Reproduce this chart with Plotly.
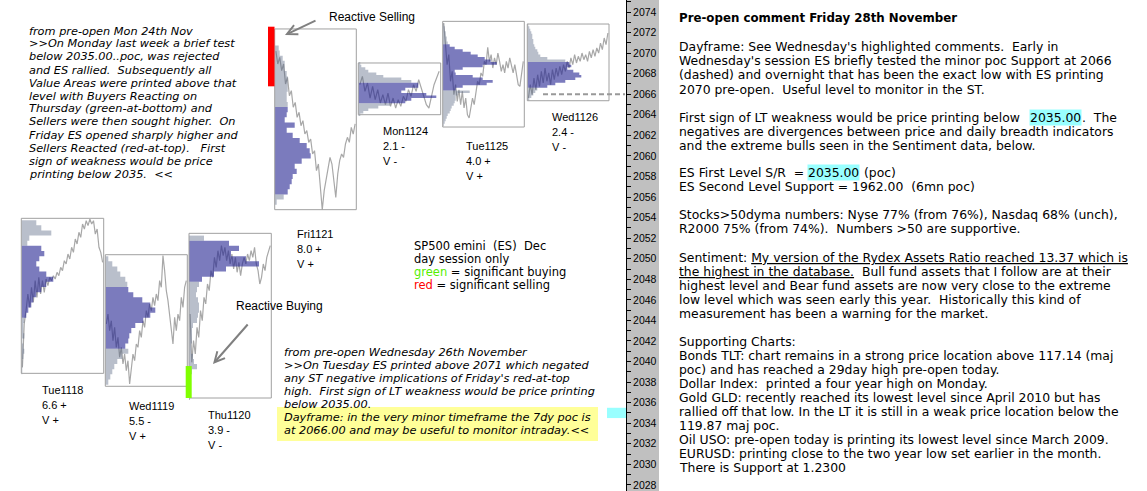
import plotly.graph_objects as go

W, H = 1147, 491

# ---------------- DATA ----------------
days = ["Tue1118", "Wed1119", "Thu1120", "Fri1121", "Mon1124", "Tue1125", "Wed1126"]
day_range_index = ["6.6 +", "5.5 -", "3.9 -", "8.0 +", "2.1 -", "4.0 +", "2.4 -"]
day_volume = ["V +", "V +", "V -", "V +", "V -", "V +", "V -"]

# day low / high (price extent of each day's box)
day_low = [2038.85, 2037.59, 2036.45, 2054.77, 2064.01, 2062.81, 2065.37]
day_high = [2053.93, 2050.39, 2052.47, 2072.35, 2069.04, 2073.09, 2072.83]

# value areas (low, high)
va_low = [2044.5, 2041.5, 2048.0, 2056.5, 2065.25, 2066.5, 2066.75]
va_high = [2051.0, 2047.0, 2051.5, 2064.5, 2067.0, 2070.75, 2069.0]

# profile ladders: top price and tick step
profile_top = [2053.5, 2050.0, 2052.0, 2070.5, 2069.0, 2073.0, 2072.75]
profile_step = [0.5, 0.5, 0.5, 0.5, 0.25, 0.25, 0.25]

# TPO profile counts, from the top of each ladder downward
tue1118_tpo = [15, 20, 30, 8, 6, 20, 23, 18, 15, 18, 25, 32, 25, 20, 15, 12, 10, 7, 5, 3,
               2, 2, 3, 1, 2, 3, 2, 1, 1, 1]
wed1119_tpo = [3, 7, 12, 15, 20, 22, 23, 28, 37, 45, 50, 45, 38, 30, 26, 24, 23, 20, 23, 17,
               12, 9, 7, 5, 3]
thu1120_tpo = [15, 40, 50, 42, 57, 70, 37, 25, 13, 10, 8, 7, 9, 10, 10, 9, 8, 4, 3, 3,
               3, 2, 2, 4, 5, 8, 3, 2, 1, 1, 1, 1]
fri1121_tpo = [4, 5, 8, 10, 10, 12, 13, 13, 13, 12, 12, 13, 13, 12, 10, 20, 12, 18, 25, 32,
               35, 36, 27, 20, 22, 18, 17, 15, 13, 9, 2]
mon1124_tpo = [2, 3, 7, 10, 18, 25, 43, 53, 60, 60, 47, 43, 68, 78, 53, 47, 32, 20, 10, 5, 2]
tue1125_tpo = [0, 1, 2, 2, 3, 3, 4, 4, 5, 7, 12, 20, 28, 35, 42, 48, 54, 40, 20, 12,
               13, 30, 40, 50, 44, 20, 13, 27, 15, 13, 13, 12, 11, 9, 8, 7, 5, 4, 3, 2, 1]
wed1126_tpo = [1, 2, 3, 4, 5, 5, 6, 6, 7, 8, 10, 11, 13, 20, 38, 42, 44, 40, 46, 52,
               54, 48, 38, 28, 20, 10, 8, 6, 4, 2]

# intraday price path (day session)
tue1118_px = [2039.43, 2043.65, 2044.95, 2046.57, 2045.27, 2047.22, 2045.76, 2047.87, 2046.24,
              2048.19, 2046.57, 2047.87, 2046.73, 2048.03, 2047.38, 2048.19, 2047.87, 2048.35,
              2048.03, 2048.68, 2048.35, 2049.16, 2048.84, 2049.81, 2049.49, 2050.46, 2049.97,
              2051.11, 2050.62, 2051.92, 2051.43, 2052.57, 2052.08, 2053.38, 2052.89, 2053.70,
              2053.22, 2053.86, 2053.38, 2053.70, 2052.40, 2052.89, 2051.11, 2050.62, 2049.65]
wed1119_px = [2043.65, 2044.62, 2043.00, 2043.97, 2042.03, 2043.32, 2041.38, 2042.35, 2040.41,
              2041.38, 2039.76, 2040.73, 2039.11, 2040.08, 2037.81, 2039.43, 2040.73, 2040.08,
              2041.70, 2041.38, 2043.00, 2042.35, 2043.97, 2043.32, 2044.95, 2044.30, 2045.60,
              2044.95, 2046.24, 2045.43, 2046.57, 2045.92, 2047.87, 2047.22, 2050.30, 2048.84,
              2046.89, 2045.92, 2044.62, 2043.32, 2041.70, 2044.30, 2043.00, 2044.62, 2043.97,
              2046.24, 2045.27, 2047.22, 2047.87]
thu1120_px = [2044.62, 2039.92, 2042.03, 2040.73, 2043.32, 2042.35, 2044.95, 2043.97, 2046.24,
              2045.60, 2047.54, 2046.89, 2048.84, 2048.19, 2050.13, 2049.16, 2050.78, 2049.81,
              2051.27, 2050.30, 2051.11, 2049.81, 2050.78, 2049.49, 2050.46, 2049.00, 2050.13,
              2048.68, 2049.65, 2048.35, 2049.49, 2050.13, 2049.49, 2050.46, 2049.81, 2050.78,
              2050.13, 2051.11, 2049.49, 2048.84, 2047.54, 2048.19, 2049.49, 2048.84, 2050.13,
              2050.78, 2051.27]
fri1121_px = [2070.20, 2068.94, 2069.59, 2068.29, 2068.94, 2067.00, 2067.64, 2065.86, 2066.35,
              2064.73, 2065.21, 2063.75, 2064.24, 2062.94, 2063.43, 2062.13, 2062.46, 2061.32,
              2061.64, 2060.19, 2060.51, 2058.57, 2059.21, 2056.94, 2054.77, 2056.62, 2057.59,
              2058.89, 2059.86, 2059.21, 2057.59, 2055.97, 2058.24, 2059.54, 2060.19, 2059.86,
              2061.16, 2061.81, 2061.32, 2062.78, 2062.13, 2063.11]
mon1124_px = [2066.93, 2067.74, 2066.28, 2067.09, 2065.63, 2066.77, 2065.47, 2066.44, 2065.15,
              2065.96, 2064.99, 2066.12, 2064.82, 2065.63, 2064.66, 2065.47, 2064.82, 2065.80,
              2065.31, 2066.44, 2065.80, 2066.93, 2066.28, 2067.42, 2066.61, 2065.80, 2064.99,
              2064.66, 2065.96, 2066.93, 2067.58, 2068.23]
tue1125_px = [2072.93, 2070.82, 2068.88, 2069.85, 2067.26, 2068.23, 2065.96, 2066.93, 2065.31,
              2066.44, 2064.99, 2066.28, 2064.66, 2065.63, 2064.01, 2063.69, 2064.66, 2065.63,
              2064.99, 2066.44, 2067.26, 2066.93, 2068.07, 2067.74, 2069.20, 2068.88, 2070.56,
              2069.20, 2069.85, 2068.55, 2069.53, 2068.88, 2070.01, 2069.20, 2068.23, 2068.88,
              2068.07, 2069.20, 2068.55, 2069.53, 2068.71, 2068.07, 2068.88, 2067.74, 2066.93,
              2066.77, 2068.23, 2069.20]
wed1126_px = [2065.63, 2066.93, 2065.96, 2067.58, 2066.44, 2067.90, 2066.77, 2068.23, 2067.09,
              2068.55, 2067.26, 2068.07, 2066.93, 2068.39, 2067.42, 2068.55, 2067.74, 2068.71,
              2067.90, 2068.88, 2068.23, 2069.20, 2068.55, 2069.53, 2068.88, 2069.85, 2069.04,
              2069.69, 2069.20, 2070.01, 2069.36, 2069.85, 2069.20, 2070.17, 2069.53, 2070.34,
              2069.69, 2070.50, 2070.01, 2070.98, 2070.34, 2071.47, 2070.82, 2071.96]

# reactive zones (price ranges)
selling_zone = [2066.77, 2072.57]   # Friday, red-at-top
buying_zone = [2036.45, 2039.56]    # Thursday, green-at-bottom
poc_7dy = 2066.0
first_level_sr = 2035.0

profiles = [tue1118_tpo, wed1119_tpo, thu1120_tpo, fri1121_tpo, mon1124_tpo, tue1125_tpo, wed1126_tpo]
paths = [tue1118_px, wed1119_px, thu1120_px, fri1121_px, mon1124_px, tue1125_px, wed1126_px]

# ---------------- LAYOUT CONSTANTS ----------------
BODY = "DejaVu Sans"
LABEL = "Liberation Sans"
VA_COL = "rgba(35,35,145,0.6)"
OUT_COL = "rgba(80,95,125,0.4)"
LINE_COL = "#a8a8a8"
BOX_COL = "#a0a0a0"

# box pixel columns
box_x = [(21.3, 103.7), (105.3, 187.3), (189.0, 271.3), (274.7, 356.3),
         (358.3, 440.7), (442.7, 524.3), (527.3, 609.0)]
# label anchor (left x, first-line centre y)
label_xy = [(40, 390), (127, 406), (206, 415), (295, 234), (381, 131), (464, 146), (550, 117)]

# price scale: 2074 at y=12px, 10.28 px per point
PX_PER_PT = 10.28
Y_TOP = 2074 + 12 / PX_PER_PT
Y_BOT = 2074 - (H - 12) / PX_PER_PT


def px(x):
    return x / W


def py(y):
    return 1 - y / H


def nb(s):
    return s.replace("  ", "\u00a0 ")


def profile_segments(levels, counts, step, lo, hi):
    """split the profile ladder into contiguous runs inside / outside the value area
    and return stepped outlines (x = count, y = price) for each run"""
    runs = []
    cur = None
    for lv, c in zip(levels, counts):
        inside = lo - 1e-6 <= lv <= hi + 1e-6
        if cur is None or cur[0] != inside:
            cur = [inside, [], []]
            runs.append(cur)
        cur[1].append(lv)
        cur[2].append(c)
    out = []
    for inside, lvs, cs in runs:
        xs = [0]
        ys = [lvs[0] + step / 2]
        for lv, c in zip(lvs, cs):
            xs += [c, c]
            ys += [lv + step / 2, lv - step / 2]
        xs.append(0)
        ys.append(lvs[-1] - step / 2)
        out.append((inside, xs, ys))
    return out


fig = go.Figure()
layout = dict(
    width=W, height=H, autosize=False,
    margin=dict(l=0, r=0, t=0, b=0, pad=0),
    paper_bgcolor="white", plot_bgcolor="rgba(0,0,0,0)",
    showlegend=False, hovermode=False,
    yaxis=dict(range=[Y_BOT, Y_TOP], domain=[0, 1], anchor="free", position=626 / W,
               side="right", showline=True, linecolor="#000", linewidth=1,
               ticks="outside", ticklen=4, tickcolor="#000", tickwidth=1,
               tick0=2028, dtick=2, showgrid=False, zeroline=False,
               tickfont=dict(family=LABEL, size=10.5, color="#000"),
               minor=dict(tick0=2028, dtick=1, ticks="outside", ticklen=4,
                          tickcolor="#000", showgrid=False),
               fixedrange=True),
)

shapes = []
anns = []

for i in range(len(days)):
    t_id = "x" if i == 0 else f"x{i + 1}"
    p_id = f"x{i + 8}"
    t_key = "xaxis" if i == 0 else f"xaxis{i + 1}"
    p_key = f"xaxis{i + 8}"
    dom = [px(box_x[i][0]), px(box_x[i][1])]
    n = len(paths[i])
    layout[t_key] = dict(domain=dom, range=[-0.6, n - 0.4], visible=False, anchor="y",
                         fixedrange=True)
    layout[p_key] = dict(domain=dom, range=[0, box_x[i][1] - box_x[i][0]], visible=False,
                         anchor="y", overlaying=t_id, fixedrange=True)

    fig.add_trace(go.Scatter(x=list(range(n)), y=paths[i], mode="lines",
                             line=dict(color=LINE_COL, width=1.2),
                             xaxis=t_id, yaxis="y", hoverinfo="skip"))
    levels = [profile_top[i] - k * profile_step[i] for k in range(len(profiles[i]))]
    for inside, xs, ys in profile_segments(levels, profiles[i], profile_step[i],
                                           va_low[i], va_high[i]):
        fig.add_trace(go.Scatter(x=xs, y=ys, mode="lines", fill="toself",
                                 fillcolor=VA_COL if inside else OUT_COL,
                                 line=dict(width=0, color="rgba(0,0,0,0)"),
                                 xaxis=p_id, yaxis="y", hoverinfo="skip"))

    shapes.append(dict(type="rect", xref=f"{t_id} domain", yref="y", x0=0, x1=1,
                       y0=day_low[i], y1=day_high[i], line=dict(color=BOX_COL, width=1),
                       fillcolor="rgba(0,0,0,0)", layer="above"))

    lx, ly = label_xy[i]
    for j, s in enumerate([days[i], day_range_index[i], day_volume[i]]):
        anns.append(dict(x=px(lx), y=py(ly + 15 * j), xref="paper", yref="paper", text=s,
                         showarrow=False, xanchor="left", yanchor="middle",
                         font=dict(family=LABEL, size=11, color="#000")))

# ruler strip
shapes.append(dict(type="rect", xref="paper", yref="paper", x0=px(626), x1=px(659),
                   y0=0, y1=1, fillcolor="#c0c0c0", line=dict(width=0), layer="below"))
# 2035 marker
shapes.append(dict(type="rect", xref="paper", yref="y", x0=px(607), x1=px(626),
                   y0=first_level_sr - 0.5, y1=first_level_sr + 0.5,
                   fillcolor="#99ffff", line=dict(width=0), layer="below"))
# 7dy poc dashed line
shapes.append(dict(type="line", xref="paper", yref="y", x0=px(543), x1=px(625),
                   y0=poc_7dy, y1=poc_7dy, line=dict(color="#999999", width=2, dash="5px,3px")))
# reactive zones
shapes.append(dict(type="rect", xref="paper", yref="y", x0=px(268), x1=px(274.5),
                   y0=selling_zone[0], y1=selling_zone[1], fillcolor="#ff0000", line=dict(width=0)))
shapes.append(dict(type="rect", xref="paper", yref="y", x0=px(185.7), x1=px(191.7),
                   y0=buying_zone[0], y1=buying_zone[1], fillcolor="#80ff00", line=dict(width=0)))
# yellow highlight
shapes.append(dict(type="rect", xref="paper", yref="paper", x0=px(277), x1=px(598),
                   y0=py(441), y1=py(407), fillcolor="#ffff99", line=dict(width=0), layer="below"))


def T(x, y, text, size=12.4, family=BODY, color="#000", **kw):
    d = dict(x=px(x), y=py(y), xref="paper", yref="paper", text=nb(text), showarrow=False,
             xanchor="left", yanchor="middle", font=dict(size=size, family=family, color=color))
    d.update(kw)
    anns.append(d)


# left italic comment
left_lines = [
    "from pre-open Mon 24th Nov",
    "&gt;&gt;On Monday last week a brief test",
    "below 2035.00..poc, was rejected",
    "and ES rallied.  Subsequently all",
    "Value Areas were printed above that",
    "level with Buyers Reacting on",
    "Thursday (green-at-bottom) and",
    "Sellers were then sought higher.  On",
    "Friday ES opened sharply higher and",
    "Sellers Reacted (red-at-top).   First",
    "sign of weakness would be price",
    "printing below 2035.  &lt;&lt;",
]
for k, s in enumerate(left_lines):
    T(27, 31 + 13 * k, "<i>" + s + "</i>", size=11.3)

mid_lines = [
    "from pre-open Wednesday 26th November",
    "&gt;&gt;On Tuesday ES printed above 2071 which negated",
    "any ST negative implications of Friday's red-at-top",
    "high.  First sign of LT weakness would be price printing",
    "below 2035.00.",
    "Dayframe: in the very minor timeframe the 7dy poc is",
    "at 2066.00 and may be useful to monitor intraday.&lt;&lt;",
]
for k, s in enumerate(mid_lines):
    T(282, 352 + 13 * k, "<i>" + s + "</i>", size=11.3)

# legend text
T(412, 246, "SP500 emini  (ES)  Dec", size=11.5)
T(412, 259, "day session only", size=11.5)
T(412, 272, "<span style='color:#55ee00'>green</span> = significant buying", size=11.5)
T(412, 285, "<span style='color:#ff0000'>red</span> = significant selling", size=11.5)

# reactive labels + arrows
T(327, 17, "Reactive Selling", size=12, family=LABEL)
T(234, 306, "Reactive Buying", size=12, family=LABEL)
anns.append(dict(x=px(285), y=py(35), xref="paper", yref="paper", text="", showarrow=True,
                 ax=32, ay=-15, arrowhead=5, arrowsize=1, arrowwidth=2, arrowcolor="#808080"))
anns.append(dict(x=px(213), y=py(364), xref="paper", yref="paper", text="", showarrow=True,
                 ax=36, ay=-41, arrowhead=5, arrowsize=1, arrowwidth=2, arrowcolor="#808080"))

# right commentary
T(677, 18, "<b>Pre-open comment Friday 28th November</b>", size=11.8)
right = [
    (47, "Dayframe: See Wednesday's highlighted comments.  Early in"),
    (61, "Wednesday's session ES briefly tested the minor poc Support at 2066"),
    (75, "(dashed) and overnight that has been the exact low with ES printing"),
    (89, "2070 pre-open.  Useful level to monitor in the ST."),
    (131, "negatives are divergences between price and daily breadth indicators"),
    (145, "and the extreme bulls seen in the Sentiment data, below."),
    (187, "ES Second Level Support = 1962.00  (6mn poc)"),
    (215, "Stocks&gt;50dyma numbers: Nyse 77% (from 76%), Nasdaq 68% (unch),"),
    (229, "R2000 75% (from 74%).  Numbers &gt;50 are supportive."),
    (257, "Sentiment: <span style='text-decoration:underline'>My version of the Rydex Assets Ratio reached 13.37 which is</span>"),
    (271, "<span style='text-decoration:underline'>the highest in the database.</span>  Bull fund assets that I follow are at their"),
    (285, "highest level and Bear fund assets are now very close to the extreme"),
    (299, "low level which was seen early this year.  Historically this kind of"),
    (313, "measurement has been a warning for the market."),
    (341, "Supporting Charts:"),
    (355, "Bonds TLT: chart remains in a strong price location above 117.14 (maj"),
    (369, "poc) and has reached a 29day high pre-open today."),
    (383, "Dollar Index:  printed a four year high on Monday."),
    (397, "Gold GLD: recently reached its lowest level since April 2010 but has"),
    (411, "rallied off that low. In the LT it is still in a weak price location below the"),
    (425, "119.87 maj poc."),
    (439, "Oil USO: pre-open today is printing its lowest level since March 2009."),
    (453, "EURUSD: printing close to the two year low set earlier in the month."),
    (467, "There is Support at 1.2300"),
]
for y, s in right:
    T(677, y, s)

# lines with highlighted 2035.00
T(677, 117, "First sign of LT weakness would be price printing below")
T(1029, 117, "2035.00", bgcolor="#99ffff", borderpad=0)
T(1080, 117, ".  The")
T(677, 173, "ES First Level S/R  =")
T(807, 173, "2035.00", bgcolor="#99ffff", borderpad=0)
T(858, 173, " (poc)")

layout["shapes"] = shapes
layout["annotations"] = anns
fig.update_layout(**layout)
fig.write_html("out.html", include_plotlyjs=True, config={"displayModeBar": False, "staticPlot": True})
